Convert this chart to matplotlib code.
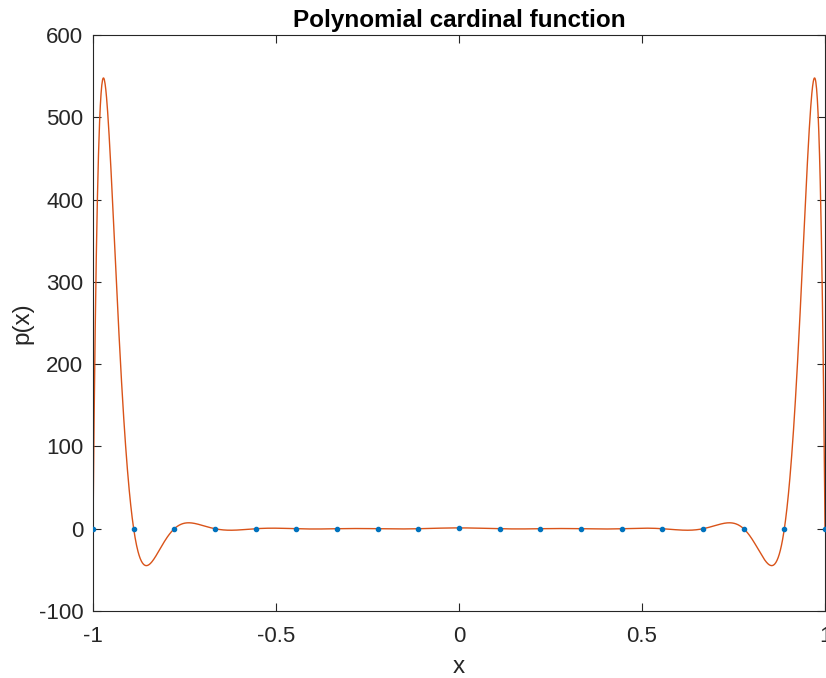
import numpy as np
import matplotlib
matplotlib.use("Agg")
import matplotlib.pyplot as plt

plt.rcParams['font.family'] = ['Liberation Sans', 'DejaVu Sans']
plt.rcParams['axes.unicode_minus'] = False

# interpolation nodes (equispaced, 19 points) and cardinal data
x_nodes = [-1.0, -0.8889, -0.7778, -0.6667, -0.5556, -0.4444, -0.3333, -0.2222, -0.1111,
           0.0, 0.1111, 0.2222, 0.3333, 0.4444, 0.5556, 0.6667, 0.7778, 0.8889, 1.0]
y_nodes = [0, 0, 0, 0, 0, 0, 0, 0, 0, 1, 0, 0, 0, 0, 0, 0, 0, 0, 0]

xn = np.array(x_nodes)
yn = np.array(y_nodes, dtype=float)

# interpolating polynomial through the nodes (Lagrange form)
xx = np.linspace(-1, 1, 2001)
pp = np.zeros_like(xx)
for i in range(len(xn)):
    li = np.ones_like(xx)
    for j in range(len(xn)):
        if j != i:
            li *= (xx - xn[j]) / (xn[i] - xn[j])
    pp += yn[i] * li

fig = plt.figure(figsize=(8.26, 6.78), dpi=100)
ax = fig.add_axes([0.1126, 0.0988, 0.8862, 0.8496])

ax.plot(xn, yn, '.', color='#0072BD', markersize=6, zorder=3)
ax.plot(xx, pp, '-', color='#D95319', linewidth=1.0, zorder=2)

ax.set_xlim(-1, 1)
ax.set_ylim(-100, 600)
ax.set_xticks([-1, -0.5, 0, 0.5, 1])
ax.set_xticklabels(['-1', '-0.5', '0', '0.5', '1'])
ax.set_yticks(np.arange(-100, 601, 100))
ax.tick_params(direction='in', labelsize=16, length=6, color='#262626',
               labelcolor='#262626', top=True, right=True)
ax.tick_params(axis='x', pad=11)
ax.tick_params(axis='y', pad=7)
for s in ax.spines.values():
    s.set_color('#262626')
    s.set_linewidth(0.8)

ax.set_xlabel('x', fontsize=17.5, color='#262626', labelpad=6)
ax.set_ylabel('p(x)', fontsize=17.5, color='#262626', labelpad=4)
ax.set_title('Polynomial cardinal function', fontsize=17.5, fontweight='bold', pad=6)

fig.savefig('out.png', dpi=100)
